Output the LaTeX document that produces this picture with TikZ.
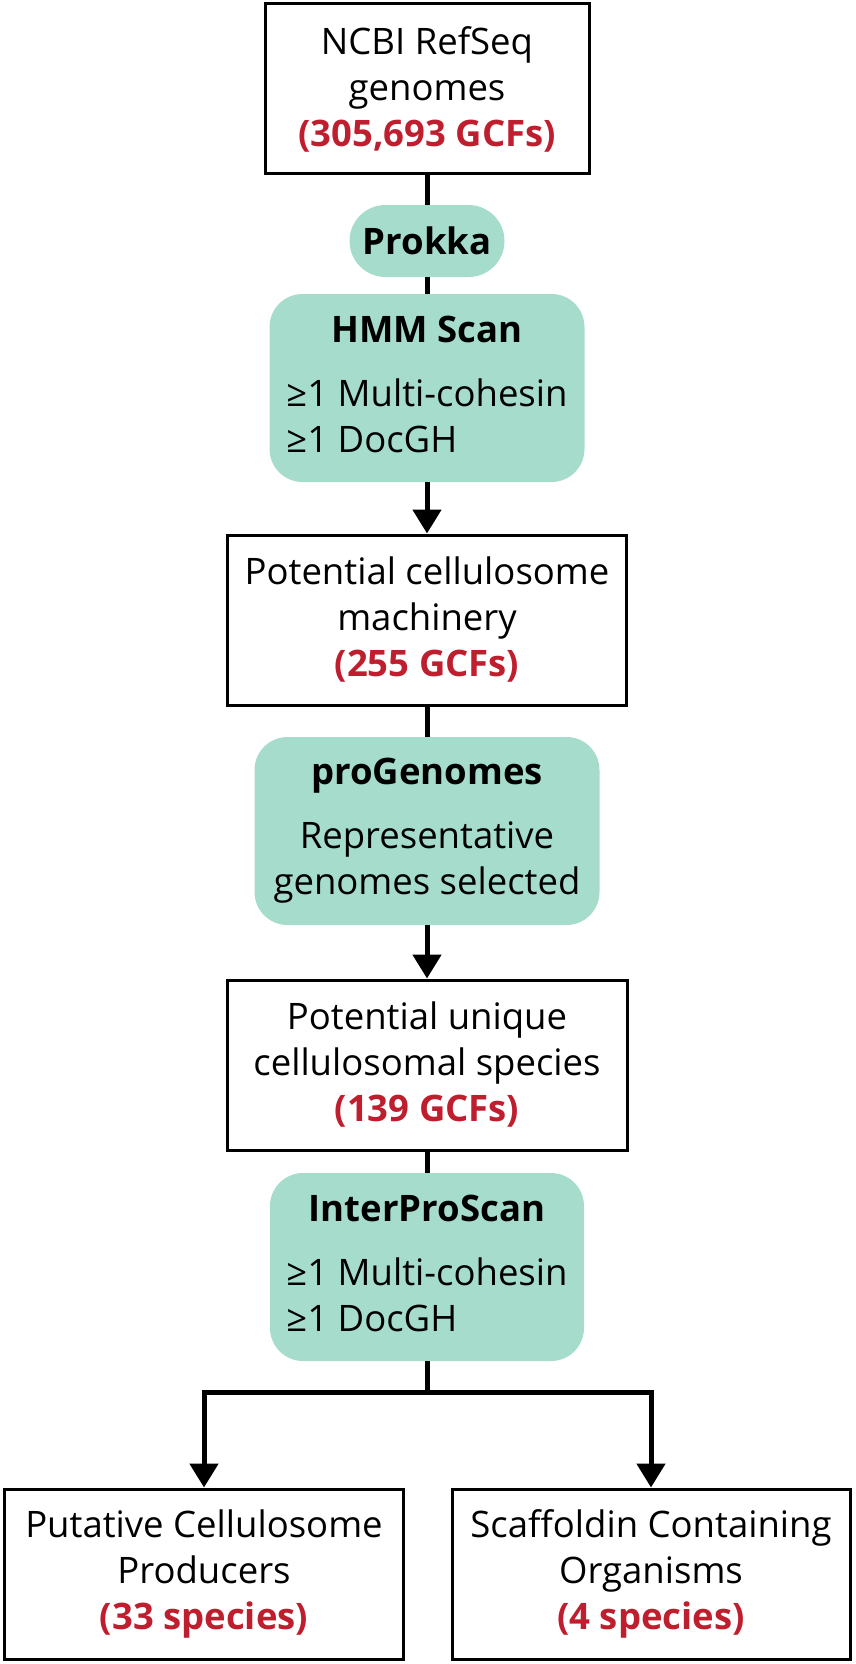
\documentclass[tikz,border=0pt]{standalone}
\usepackage{fontspec}
\setmainfont{Open Sans}
\usetikzlibrary{arrows.meta}
\definecolor{countred}{RGB}{190,30,45}
\definecolor{toolteal}{RGB}{166,220,204}
\newcommand{\cnt}[1]{{\bfseries\color{countred}#1}}
\newcommand{\crit}[2]{\begin{tabular}{@{}l@{}}\multicolumn{1}{@{}c@{}}{\bfseries #1}\\[18pt] #2\end{tabular}}

\begin{document}
\begin{tikzpicture}[x=1pt,y=-1pt,
every node/.style={font=\fontsize{36.5}{46}\selectfont},
res/.style={draw,line width=3pt,inner sep=0,align=center,minimum height=170pt},
tool/.style={fill=toolteal,inner sep=0,align=center,rounded corners=33pt,minimum height=188pt},
conn/.style={line width=5pt},
arr/.style={line width=5pt,-{Triangle[length=24pt,width=28pt]}}]
	\useasboundingbox (0,0) rectangle (856,1664);
	\def\mx{427}

	\node[res,minimum width=324pt] at (\mx,89) (src) {NCBI RefSeq\\genomes\\\cnt{(305,693 GCFs)}};
	\node[tool,minimum width=155pt,minimum height=72pt,rounded corners=36pt] at (\mx,241) (prokka) {\bfseries Prokka};
	\node[tool,minimum width=315pt] at (\mx,388) (hmm) {\crit{HMM Scan}{≥1 Multi-cohesin\\≥1 DocGH}};
	\node[res,minimum width=399pt] at (\mx,620) (pot) {Potential cellulosome\\machinery\\\cnt{(255 GCFs)}};
	\node[tool,minimum width=345pt] at (\mx,831) (progen) {{\bfseries proGenomes}\\[18pt]Representative\\genomes selected};
	\node[res,minimum width=400pt] at (\mx,1065) (uniq) {Potential unique\\cellulosomal species\\\cnt{(139 GCFs)}};
	\node[tool,minimum width=314pt] at (\mx,1267) (ipscan) {\crit{InterProScan}{≥1 Multi-cohesin\\≥1 DocGH}};
	\node[res,minimum width=399pt] at (204,1574) (prod) {Putative Cellulosome\\Producers\\\cnt{(33 species)}};
	\node[res,minimum width=398pt] at (651,1574) (scaf) {Scaffoldin Containing\\Organisms\\\cnt{(4 species)}};
	\coordinate (split) at (\mx,1392);

	\draw[conn] (src) -- (prokka);
	\draw[conn] (prokka) -- (hmm);
	\draw[arr] (hmm) -- (pot);
	\draw[conn] (pot) -- (progen);
	\draw[arr] (progen) -- (uniq);
	\draw[conn] (uniq) -- (ipscan);
	% branch to the two result sets
	\draw[conn] (ipscan) -- (split);
	\draw[arr] (split) -| (prod);
	\draw[arr] (split) -| (scaf);
\end{tikzpicture}
\end{document}
